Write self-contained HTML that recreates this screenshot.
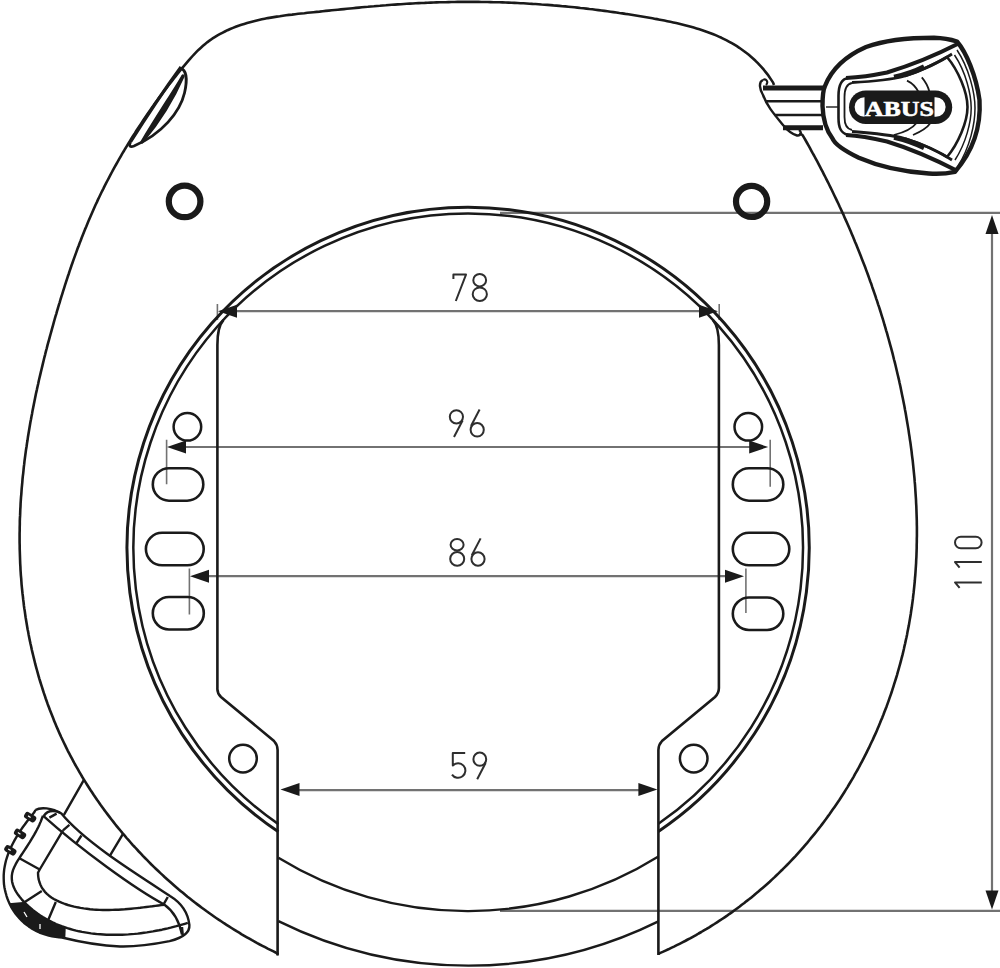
<!DOCTYPE html><html><head><meta charset="utf-8"><style>html,body{margin:0;padding:0;background:#fff;width:1000px;height:968px;overflow:hidden}svg{display:block}</style></head><body><svg width="1000" height="968" viewBox="0 0 1000 968"><g stroke="#727272" stroke-width="2.2" fill="none">
<path d="M230,311.2 H705"/>
<path d="M180,447 H756"/>
<path d="M200,576.2 H733"/>
<path d="M292,790.2 H646"/>
<path d="M500,212.8 H1000"/>
<path d="M500,910.8 H1000"/>
<path d="M992,228 V896"/>
</g>
<g stroke="#727272" stroke-width="1.6" fill="none">
<path d="M217.4,304 V320 M719.2,304 V320"/>
<path d="M166.6,439.7 V484.3 M770.2,439.7 V486.8"/>
<path d="M189.4,568.6 V614.5 M745.9,568.6 V613"/>
</g>
<path d="M774.0,85.0 L773.1,82.6 L771.3,79.9 L769.5,77.2 L767.7,74.6 L765.7,72.1 L763.8,69.7 L761.8,67.3 L759.7,65.1 L757.6,62.9 L755.5,60.8 L753.3,58.7 L751.0,56.7 L748.8,54.8 L746.5,53.0 L744.1,51.2 L741.7,49.5 L739.3,47.8 L736.9,46.2 L734.4,44.7 L731.8,43.2 L729.3,41.8 L726.7,40.4 L724.1,39.1 L721.5,37.8 L718.8,36.6 L716.1,35.4 L713.4,34.3 L710.6,33.2 L707.9,32.2 L705.1,31.2 L702.3,30.2 L699.4,29.3 L696.6,28.4 L693.7,27.6 L690.9,26.8 L688.0,26.0 L685.0,25.2 L682.1,24.5 L679.2,23.8 L676.2,23.1 L673.3,22.4 L670.3,21.8 L667.3,21.2 L664.4,20.6 L661.4,20.0 L658.4,19.4 L655.4,18.9 L652.4,18.3 L649.4,17.8 L646.4,17.3 L643.4,16.8 L640.4,16.3 L637.4,15.8 L634.4,15.3 L631.4,14.8 L628.4,14.3 L625.4,13.9 L622.4,13.4 L619.4,13.0 L616.4,12.5 L613.4,12.1 L610.4,11.7 L607.4,11.3 L604.4,10.9 L601.4,10.5 L598.4,10.1 L595.4,9.7 L592.4,9.3 L589.4,9.0 L586.4,8.6 L583.4,8.3 L580.4,8.0 L577.4,7.6 L574.4,7.3 L571.4,7.0 L568.4,6.7 L565.4,6.4 L562.4,6.2 L559.4,5.9 L556.4,5.6 L553.4,5.4 L550.5,5.1 L547.5,4.9 L544.5,4.7 L541.5,4.5 L538.5,4.2 L535.5,4.0 L532.5,3.9 L529.5,3.7 L526.5,3.5 L523.5,3.3 L520.5,3.2 L517.5,3.0 L514.5,2.9 L511.5,2.8 L508.5,2.6 L505.5,2.5 L502.5,2.4 L499.5,2.3 L496.5,2.2 L493.5,2.2 L490.5,2.1 L487.5,2.0 L484.5,2.0 L481.5,2.0 L478.5,1.9 L475.5,1.9 L472.5,1.9 L469.5,1.9 L466.5,1.9 L463.5,1.9 L460.5,1.9 L457.6,1.9 L454.6,2.0 L451.6,2.0 L448.6,2.1 L445.6,2.2 L442.6,2.2 L439.6,2.3 L436.6,2.4 L433.6,2.5 L430.7,2.6 L427.7,2.7 L424.7,2.9 L421.7,3.0 L418.7,3.1 L415.7,3.3 L412.7,3.5 L409.8,3.6 L406.8,3.8 L403.8,4.0 L400.8,4.2 L397.8,4.4 L394.8,4.6 L391.9,4.8 L388.9,5.0 L385.9,5.3 L382.9,5.5 L379.9,5.8 L376.9,6.0 L373.9,6.3 L370.9,6.5 L367.9,6.8 L364.9,7.0 L361.9,7.3 L358.9,7.6 L355.9,7.9 L352.9,8.2 L349.9,8.5 L346.9,8.8 L343.9,9.1 L340.9,9.4 L337.8,9.7 L334.8,10.0 L331.8,10.3 L328.8,10.6 L325.7,10.9 L322.7,11.2 L319.6,11.6 L316.6,11.9 L313.5,12.2 L310.5,12.5 L307.4,12.8 L304.4,13.2 L301.3,13.5 L298.2,13.8 L295.1,14.2 L292.1,14.6 L289.0,14.9 L286.0,15.3 L282.9,15.7 L279.8,16.2 L276.8,16.6 L273.8,17.1 L270.8,17.6 L267.7,18.1 L264.7,18.7 L261.8,19.3 L258.8,20.0 L255.8,20.7 L252.9,21.4 L250.0,22.2 L247.1,23.0 L244.2,23.9 L241.4,24.8 L238.5,25.7 L235.7,26.8 L233.0,27.9 L230.2,29.0 L227.5,30.2 L224.9,31.5 L222.3,32.8 L219.7,34.2 L217.1,35.6 L214.7,37.1 L212.2,38.7 L209.8,40.4 L207.5,42.1 L205.2,43.9 L203.0,45.8 L200.9,47.7 L198.7,49.7 L196.7,51.7 L194.6,53.8 L192.6,56.0 L190.7,58.1 L188.7,60.3 L186.8,62.6 L184.9,64.8 L183.0,67.1 L181.1,69.4 L179.2,71.7 L177.4,74.0 L175.5,76.4 L173.6,78.7 L171.8,81.1 L169.9,83.5 L168.1,85.8 L166.3,88.2 L164.4,90.6 L162.6,93.1 L160.8,95.5 L159.0,97.9 L157.2,100.4 L155.4,102.8 L153.7,105.3 L151.9,107.8 L150.2,110.3 L148.4,112.8 L146.7,115.3 L145.0,117.8 L143.3,120.3 L141.6,122.9 L139.9,125.4 L138.2,128.0 L136.5,130.5 L134.9,133.1 L133.2,135.7 L131.6,138.3 L130.0,140.9 L128.4,143.5 L126.8,146.1 L125.2,148.7 L123.7,151.3 L122.1,153.9 L120.6,156.6 L119.1,159.2 L117.6,161.9 L116.1,164.5 L114.6,167.2 L113.1,169.8 L111.7,172.5 L110.3,175.2 L108.9,177.8 L107.5,180.5 L106.1,183.2 L104.7,185.9 L103.4,188.6 L102.0,191.3 L100.7,194.0 L99.4,196.7 L98.1,199.4 L96.9,202.1 L95.6,204.8 L94.4,207.5 L93.2,210.3 L92.0,213.0 L90.8,215.7 L89.6,218.5 L88.4,221.2 L87.3,223.9 L86.2,226.7 L85.0,229.4 L83.9,232.2 L82.8,234.9 L81.7,237.7 L80.7,240.5 L79.6,243.2 L78.6,246.0 L77.5,248.8 L76.5,251.6 L75.5,254.4 L74.5,257.1 L73.5,259.9 L72.5,262.7 L71.5,265.5 L70.6,268.3 L69.6,271.1 L68.7,274.0 L67.7,276.8 L66.8,279.6 L65.9,282.4 L65.0,285.2 L64.1,288.1 L63.2,290.9 L62.3,293.8 L61.4,296.6 L60.5,299.5 L59.7,302.3 L58.8,305.2 L58.0,308.0 L57.1,310.9 L56.3,313.8 L55.4,316.6 L54.6,319.5 L53.8,322.4 L53.0,325.3 L52.2,328.2 L51.4,331.1 L50.6,334.0 L49.8,336.9 L49.0,339.8 L48.2,342.7 L47.4,345.6 L46.7,348.5 L45.9,351.4 L45.2,354.3 L44.4,357.3 L43.7,360.2 L43.0,363.1 L42.3,366.1 L41.6,369.0 L40.9,371.9 L40.2,374.9 L39.5,377.8 L38.8,380.8 L38.2,383.7 L37.5,386.7 L36.9,389.6 L36.2,392.6 L35.6,395.6 L35.0,398.5 L34.4,401.5 L33.8,404.5 L33.2,407.4 L32.6,410.4 L32.1,413.4 L31.5,416.4 L31.0,419.3 L30.4,422.3 L29.9,425.3 L29.4,428.3 L28.9,431.3 L28.4,434.3 L27.9,437.3 L27.5,440.3 L27.0,443.3 L26.6,446.2 L26.1,449.2 L25.7,452.2 L25.3,455.2 L24.9,458.2 L24.5,461.2 L24.2,464.2 L23.8,467.2 L23.5,470.3 L23.2,473.3 L22.8,476.3 L22.5,479.3 L22.3,482.3 L22.0,485.3 L21.7,488.3 L21.5,491.3 L21.3,494.3 L21.0,497.3 L20.8,500.3 L20.6,503.4 L20.5,506.4 L20.3,509.4 L20.2,512.4 L20.1,515.4 L19.9,518.4 L19.8,521.4 L19.8,524.4 L19.7,527.5 L19.7,530.5 L19.6,533.5 L19.6,536.5 L19.6,539.5 L19.6,542.5 L19.7,545.5 L19.7,548.5 L19.8,551.5 L19.9,554.5 L20.0,557.6 L20.1,560.6 L20.2,563.6 L20.4,566.6 L20.5,569.6 L20.7,572.6 L20.9,575.6 L21.2,578.6 L21.4,581.6 L21.6,584.6 L21.9,587.6 L22.2,590.5 L22.5,593.5 L22.9,596.5 L23.2,599.5 L23.6,602.5 L23.9,605.5 L24.3,608.4 L24.8,611.4 L25.2,614.4 L25.6,617.3 L26.1,620.3 L26.6,623.2 L27.1,626.2 L27.6,629.2 L28.2,632.1 L28.7,635.0 L29.3,638.0 L29.9,640.9 L30.5,643.8 L31.2,646.8 L31.8,649.7 L32.5,652.6 L33.2,655.5 L33.9,658.4 L34.6,661.3 L35.3,664.2 L36.1,667.1 L36.9,670.0 L37.7,672.9 L38.5,675.8 L39.3,678.6 L40.2,681.5 L41.1,684.3 L42.0,687.2 L42.9,690.0 L43.8,692.9 L44.8,695.7 L45.7,698.5 L46.7,701.3 L47.7,704.2 L48.8,707.0 L49.8,709.8 L50.9,712.5 L52.0,715.3 L53.1,718.1 L54.2,720.9 L55.3,723.6 L56.5,726.4 L57.7,729.1 L58.9,731.9 L60.1,734.6 L61.3,737.3 L62.6,740.0 L63.9,742.7 L65.2,745.4 L66.5,748.1 L67.8,750.8 L69.2,753.4 L70.6,756.1 L72.0,758.7 L73.4,761.4 L74.8,764.0 L76.3,766.6 L77.8,769.2 L79.3,771.8 L80.8,774.4 L82.3,777.0 L83.9,779.6 L85.5,782.1 L87.1,784.7 L88.7,787.2 L90.3,789.8 L92.0,792.3 L93.6,794.8 L95.3,797.3 L97.0,799.8 L98.8,802.2 L100.5,804.7 L102.3,807.2 L104.0,809.6 L105.8,812.0 L107.6,814.4 L109.5,816.9 L111.3,819.2 L113.2,821.6 L115.0,824.0 L116.9,826.4 L118.8,828.7 L120.8,831.0 L122.7,833.4 L124.7,835.7 L126.6,838.0 L128.6,840.2 L130.6,842.5 L132.6,844.8 L134.7,847.0 L136.7,849.2 L138.8,851.5 L140.9,853.7 L142.9,855.9 L145.0,858.0 L147.2,860.2 L149.3,862.3 L151.4,864.5 L153.6,866.6 L155.8,868.7 L158.0,870.8 L160.2,872.9 L162.4,874.9 L164.6,877.0 L166.8,879.0 L169.1,881.0 L171.4,883.0 L173.6,885.0 L175.9,887.0 L178.2,889.0 L180.5,890.9 L182.9,892.8 L185.2,894.8 L187.5,896.7 L189.9,898.5 L192.3,900.4 L194.6,902.3 L197.0,904.1 L199.4,905.9 L201.8,907.7 L204.3,909.5 L206.7,911.3 L209.1,913.0 L211.6,914.8 L214.0,916.5 L216.5,918.2 L219.0,919.9 L221.5,921.5 L224.0,923.2 L226.5,924.8 L229.0,926.4 L231.5,928.0 L234.1,929.6 L236.6,931.2 L239.2,932.7 L241.7,934.3 L244.3,935.8 L246.9,937.3 L249.4,938.7 L252.0,940.2 L254.6,941.6 L257.2,943.1 L259.8,944.5 L262.4,945.8 L265.1,947.2 L267.7,948.6 L270.3,949.9 L273.0,951.2 L275.6,952.5 L278.4,954.4" fill="none" stroke="#1a1a1a" stroke-width="2.6" stroke-linejoin="round"/>
<path d="M799.6,133.0 L802.7,135.3 L804.2,137.9 L805.7,140.5 L807.1,143.0 L808.6,145.6 L810.0,148.2 L811.4,150.8 L812.8,153.4 L814.3,156.0 L815.7,158.6 L817.1,161.2 L818.5,163.8 L819.8,166.4 L821.2,169.1 L822.6,171.7 L823.9,174.3 L825.3,177.0 L826.6,179.6 L828.0,182.3 L829.3,185.0 L830.6,187.6 L831.9,190.3 L833.2,193.0 L834.5,195.7 L835.8,198.4 L837.1,201.1 L838.4,203.8 L839.6,206.5 L840.9,209.2 L842.1,211.9 L843.4,214.6 L844.6,217.4 L845.8,220.1 L847.0,222.8 L848.2,225.6 L849.4,228.3 L850.6,231.1 L851.8,233.9 L852.9,236.6 L854.1,239.4 L855.2,242.2 L856.4,244.9 L857.5,247.7 L858.6,250.5 L859.7,253.3 L860.8,256.1 L861.9,258.9 L863.0,261.7 L864.1,264.5 L865.2,267.3 L866.2,270.1 L867.3,273.0 L868.3,275.8 L869.3,278.6 L870.3,281.5 L871.4,284.3 L872.3,287.2 L873.3,290.0 L874.3,292.9 L875.3,295.7 L876.2,298.6 L877.2,301.4 L878.1,304.3 L879.1,307.2 L880.0,310.0 L880.9,312.9 L881.8,315.8 L882.7,318.7 L883.6,321.6 L884.4,324.5 L885.3,327.4 L886.1,330.3 L887.0,333.2 L887.8,336.1 L888.6,339.0 L889.4,341.9 L890.2,344.8 L891.0,347.7 L891.8,350.7 L892.6,353.6 L893.3,356.5 L894.0,359.5 L894.8,362.4 L895.5,365.3 L896.2,368.3 L896.9,371.2 L897.6,374.2 L898.3,377.1 L899.0,380.1 L899.6,383.0 L900.3,386.0 L900.9,388.9 L901.5,391.9 L902.1,394.9 L902.7,397.8 L903.3,400.8 L903.9,403.8 L904.5,406.7 L905.0,409.7 L905.6,412.7 L906.1,415.7 L906.6,418.7 L907.1,421.7 L907.6,424.6 L908.1,427.6 L908.6,430.6 L909.0,433.6 L909.5,436.6 L909.9,439.6 L910.4,442.6 L910.8,445.6 L911.2,448.6 L911.6,451.6 L911.9,454.6 L912.3,457.6 L912.7,460.6 L913.0,463.6 L913.3,466.7 L913.6,469.7 L913.9,472.7 L914.2,475.7 L914.5,478.7 L914.7,481.7 L915.0,484.7 L915.2,487.7 L915.4,490.8 L915.6,493.8 L915.8,496.8 L916.0,499.8 L916.1,502.8 L916.3,505.8 L916.4,508.8 L916.5,511.9 L916.6,514.9 L916.7,517.9 L916.8,520.9 L916.8,523.9 L916.9,526.9 L916.9,529.9 L916.9,533.0 L916.9,536.0 L916.8,539.0 L916.8,542.0 L916.7,545.0 L916.7,548.0 L916.6,551.0 L916.5,554.0 L916.4,557.0 L916.2,560.0 L916.1,563.0 L915.9,566.0 L915.7,569.0 L915.5,572.0 L915.3,575.0 L915.0,578.0 L914.8,581.0 L914.5,584.0 L914.2,587.0 L913.9,589.9 L913.6,592.9 L913.2,595.9 L912.9,598.9 L912.5,601.9 L912.1,604.8 L911.7,607.8 L911.2,610.8 L910.8,613.7 L910.3,616.7 L909.8,619.6 L909.3,622.6 L908.8,625.6 L908.2,628.5 L907.6,631.4 L907.1,634.4 L906.5,637.3 L905.8,640.3 L905.2,643.2 L904.5,646.1 L903.9,649.0 L903.2,652.0 L902.5,654.9 L901.7,657.8 L901.0,660.7 L900.2,663.6 L899.4,666.5 L898.6,669.4 L897.8,672.2 L897.0,675.1 L896.1,678.0 L895.2,680.9 L894.3,683.7 L893.4,686.6 L892.5,689.4 L891.6,692.3 L890.6,695.1 L889.6,697.9 L888.6,700.8 L887.6,703.6 L886.6,706.4 L885.5,709.2 L884.4,712.0 L883.4,714.8 L882.3,717.6 L881.1,720.3 L880.0,723.1 L878.8,725.9 L877.7,728.6 L876.5,731.4 L875.3,734.1 L874.0,736.9 L872.8,739.6 L871.5,742.3 L870.2,745.0 L869.0,747.7 L867.6,750.4 L866.3,753.1 L865.0,755.7 L863.6,758.4 L862.2,761.1 L860.8,763.7 L859.4,766.3 L858.0,769.0 L856.5,771.6 L855.0,774.2 L853.6,776.8 L852.1,779.4 L850.5,782.0 L849.0,784.5 L847.5,787.1 L845.9,789.6 L844.3,792.2 L842.7,794.7 L841.1,797.2 L839.5,799.7 L837.8,802.2 L836.1,804.7 L834.4,807.2 L832.7,809.6 L831.0,812.1 L829.3,814.5 L827.5,816.9 L825.8,819.3 L824.0,821.7 L822.2,824.1 L820.4,826.5 L818.5,828.9 L816.7,831.2 L814.8,833.6 L812.9,835.9 L811.0,838.2 L809.1,840.5 L807.2,842.8 L805.2,845.1 L803.3,847.3 L801.3,849.6 L799.3,851.8 L797.3,854.1 L795.3,856.3 L793.2,858.5 L791.2,860.6 L789.1,862.8 L787.0,865.0 L784.9,867.1 L782.8,869.2 L780.6,871.3 L778.5,873.4 L776.3,875.5 L774.1,877.6 L771.9,879.6 L769.7,881.7 L767.5,883.7 L765.2,885.7 L762.9,887.7 L760.7,889.6 L758.4,891.6 L756.0,893.5 L753.7,895.5 L751.4,897.4 L749.0,899.3 L746.6,901.1 L744.3,903.0 L741.8,904.8 L739.4,906.7 L737.0,908.5 L734.5,910.3 L732.1,912.1 L729.6,913.8 L727.1,915.6 L724.6,917.3 L722.1,919.0 L719.5,920.7 L717.0,922.3 L714.4,924.0 L711.8,925.6 L709.2,927.3 L706.6,928.9 L703.9,930.4 L701.3,932.0 L698.6,933.5 L696.0,935.1 L693.3,936.6 L690.6,938.1 L687.8,939.5 L685.1,941.0 L682.4,942.4 L679.6,943.8 L676.8,945.2 L674.0,946.6 L671.2,947.9 L668.4,949.3 L665.5,950.6 L662.7,951.9 L659.8,953.1 L658.4,954.0" fill="none" stroke="#1a1a1a" stroke-width="2.6" stroke-linejoin="round"/>
<circle cx="184.6" cy="201.4" r="15.8" fill="none" stroke="#1a1a1a" stroke-width="6.2"/>
<circle cx="751.6" cy="201.4" r="15.6" fill="none" stroke="#1a1a1a" stroke-width="6.2"/>
<path d="M278.4,831.8 A341.1,341.1 0 1 1 658.4,831.4" fill="none" stroke="#1a1a1a" stroke-width="3.0"/>
<path d="M278.4,824.1 A334.8,334.8 0 1 1 658.4,823.8" fill="none" stroke="#1a1a1a" stroke-width="2.5"/>
<path d="M223.4,320 Q217.4,326.5 217.4,345 L217.4,688 Q217,693 221,697 L274,741 Q277.6,745 277.6,750 L277.6,955.5" fill="none" stroke="#1a1a1a" stroke-width="2.6"/>
<path d="M712.9,320 Q718.9,326.8 718.9,345 L718.9,688 Q718.9,693 715,697 L662,741 Q658.4,745 658.4,750 L658.4,955" fill="none" stroke="#1a1a1a" stroke-width="2.6"/>
<path d="M278.4,857.7 A361.3,361.3 0 0 0 658.4,856.5" fill="none" stroke="#1a1a1a" stroke-width="2.4"/>
<path d="M278.4,921.1 A428.7,428.7 0 0 0 658.4,921.4" fill="none" stroke="#1a1a1a" stroke-width="2.4"/>
<circle cx="187.4" cy="426.8" r="13.8" fill="none" stroke="#1a1a1a" stroke-width="2.5"/>
<circle cx="748.3" cy="426.8" r="13.8" fill="none" stroke="#1a1a1a" stroke-width="2.5"/>
<circle cx="243.0" cy="758.6" r="13.8" fill="none" stroke="#1a1a1a" stroke-width="2.5"/>
<circle cx="693.7" cy="758.6" r="13.8" fill="none" stroke="#1a1a1a" stroke-width="2.5"/>
<rect x="152.8" y="468.2" width="50.5" height="32.5" rx="16.2" fill="none" stroke="#1a1a1a" stroke-width="2.6"/>
<rect x="145.9" y="532.8" width="57.8" height="32.5" rx="16.2" fill="none" stroke="#1a1a1a" stroke-width="2.6"/>
<rect x="152.8" y="597.0" width="51.0" height="32.5" rx="16.2" fill="none" stroke="#1a1a1a" stroke-width="2.6"/>
<rect x="732.8" y="468.2" width="50.5" height="32.5" rx="16.2" fill="none" stroke="#1a1a1a" stroke-width="2.6"/>
<rect x="732.8" y="532.8" width="56.5" height="32.5" rx="16.2" fill="none" stroke="#1a1a1a" stroke-width="2.6"/>
<rect x="732.8" y="597.5" width="50.5" height="32.5" rx="16.2" fill="none" stroke="#1a1a1a" stroke-width="2.6"/>
<path d="M218.0,311.2 L237.0,304.7 L237.0,317.7 Z" fill="#1a1a1a"/>
<path d="M718.0,311.2 L699.0,317.7 L699.0,304.7 Z" fill="#1a1a1a"/>
<path d="M167.0,447.0 L186.0,440.5 L186.0,453.5 Z" fill="#1a1a1a"/>
<path d="M768.2,447.0 L749.2,453.5 L749.2,440.5 Z" fill="#1a1a1a"/>
<path d="M190.0,576.2 L209.0,569.7 L209.0,582.7 Z" fill="#1a1a1a"/>
<path d="M744.0,576.2 L725.0,582.7 L725.0,569.7 Z" fill="#1a1a1a"/>
<path d="M280.5,789.5 L299.5,783.0 L299.5,796.0 Z" fill="#1a1a1a"/>
<path d="M657.4,789.5 L638.4,796.0 L638.4,783.0 Z" fill="#1a1a1a"/>
<path d="M992.0,215.0 L998.5,234.0 L985.5,234.0 Z" fill="#1a1a1a"/>
<path d="M992.0,909.4 L985.5,890.4 L998.5,890.4 Z" fill="#1a1a1a"/>
<g fill="none" stroke="#2e2e2e" stroke-width="2" stroke-linecap="butt" stroke-linejoin="round">
<path d="M453.4,279 V274.6 H466 L455.8,301"/>
<ellipse cx="479.7" cy="280.2" rx="6.4" ry="6.2"/>
<ellipse cx="479.8" cy="294.2" rx="7.1" ry="6.8"/>
<ellipse cx="456.4" cy="416.8" rx="6.6" ry="6.6"/>
<path d="M462.6,420.5 L454,437"/>
<ellipse cx="477.2" cy="429.8" rx="6.6" ry="6.8"/>
<path d="M471,426 L479.6,409.5"/>
<ellipse cx="457.1" cy="544.7" rx="6.5" ry="5.7"/>
<ellipse cx="457.2" cy="558.9" rx="7.0" ry="6.9"/>
<ellipse cx="478" cy="559" rx="6.6" ry="6.8"/>
<path d="M471.8,555.2 L480.6,538.4"/>
<path d="M465.2,753 H452.8 V765.5 A7.3,7.3 0 1 1 452,774.6"/>
<ellipse cx="479.8" cy="759.2" rx="6.4" ry="6.6"/>
<path d="M485.6,763 L477.2,779.2"/>
<rect x="955" y="536.7" width="26.6" height="11.6" rx="5.8"/>
<path d="M981.8,562.1 H955 L959.6,567.6"/>
<path d="M981.8,582.4 H955 L959.6,587.9"/>
</g>
<path d="M180.5,68 C186.5,70 187.5,80 184.5,93 C180,112 162,134 134,146 C130,147.5 128.5,146 130.5,142" fill="none" stroke="#1a1a1a" stroke-width="2.8"/>
<path d="M181,67 C170,82 148,114 130.5,142" fill="none" stroke="#1a1a1a" stroke-width="3.2"/>
<path d="M183,76 C175,90 160,112 142,142 C152,130 170,106 183,76 Z" fill="#1a1a1a" stroke="#1a1a1a" stroke-width="3.4" stroke-linejoin="round"/>
<g fill="none" stroke="#1a1a1a" stroke-linejoin="round">
<path d="M763,80 C758,82 760,90 763,95 C767,106 774,114 783,125 C787,130 792,134 797,135.5 C801,136 802,132 799,130" stroke-width="2.4"/>
<path d="M763,80 C766,78 769,82 766,85" stroke-width="2"/>
<path d="M763,88 H823" stroke-width="5"/>
<path d="M765.5,101.3 H823" stroke-width="2.6"/>
<path d="M774.5,115 H823" stroke-width="2.6"/>
<path d="M783,127.7 H823" stroke-width="5"/>
</g>
<path d="M825,86 C832,68 848,55 866,47 C885,40 910,37.7 934,37.7 C945,38 951,39.5 957,41.5 C966,52 976,75 979.5,100 C981,125 974,150 955,171.8 C945,174 935,174 928.8,173.5 C905,172 880,167 858.8,157.8 C845,151 835,145 832.5,138.5 C826,130 823,120 822.5,106 C822.5,95 823,90 825,86 Z" fill="#fff" stroke="#1a1a1a" stroke-width="4.4" stroke-linejoin="round"/>
<path d="M905,76 C926,69 940,61 947,57 C958,70 967.5,92 967.5,107 C967.5,122 958,144 947,157 C940,153 926,145 905,138.5" fill="none" stroke="#1a1a1a" stroke-width="2.6" stroke-linejoin="round"/>
<path d="M954.5,55 C966,72 971.2,95 971.2,108 C971.2,122 966,143 955,160" fill="none" stroke="#1a1a1a" stroke-width="1.5"/>
<path d="M957,50 C969,68 975,93 975,108 C975,124 970,147 958,166" fill="none" stroke="#1a1a1a" stroke-width="1.5"/>
<path d="M848,78 C841,79 838.5,86 838.5,96 L838.5,118 C838.5,128 841,133 848,135" fill="none" stroke="#1a1a1a" stroke-width="2.6"/>
<path d="M852,83 C846.5,84 844.5,89 844.5,97 L844.5,117 C844.5,124 846.5,129 852,130" fill="none" stroke="#1a1a1a" stroke-width="1.8"/>
<path d="M957.5,44 C940,53 915,64 887,72.5 C870,76 856,77.5 846,78" fill="none" stroke="#1a1a1a" stroke-width="4.2"/>
<path d="M952,54 C940,62 926,69 905,76 C890,80 872,81.5 852,82.5" fill="none" stroke="#1a1a1a" stroke-width="2.8"/>
<path d="M894,77 C905,74.5 915,71 924,66.5" fill="none" stroke="#1a1a1a" stroke-width="4.4"/>
<path d="M957.5,171 C940,162 915,150 887,141.5 C870,137.5 856,135.5 846,135" fill="none" stroke="#1a1a1a" stroke-width="4.2"/>
<path d="M952,160 C940,152 926,145 905,138.5 C890,134.5 872,133 852,131.5" fill="none" stroke="#1a1a1a" stroke-width="2.8"/>
<path d="M894,137.5 C905,140 915,143.5 924,148" fill="none" stroke="#1a1a1a" stroke-width="4.4"/>
<path d="M826,107 H838" stroke="#1a1a1a" stroke-width="1.4"/>
<path d="M907,80.6 C912,83 916,87 918.5,92" fill="none" stroke="#1a1a1a" stroke-width="1.8"/>
<path d="M921.8,77.3 C925,81 928,86 929.5,92" fill="none" stroke="#1a1a1a" stroke-width="1.8"/>
<path d="M893.8,135 C902,133 912,129 916.5,123" fill="none" stroke="#1a1a1a" stroke-width="1.8"/>
<path d="M913,135 C920,132 927,128 930.5,123" fill="none" stroke="#1a1a1a" stroke-width="1.8"/>
<rect x="849" y="90.4" width="103.2" height="33.6" rx="16.8" fill="#1a1a1a"/>
<rect x="854.6" y="97.2" width="91" height="19.6" rx="9.8" fill="#fff"/>
<rect x="864.5" y="96" width="70" height="22" fill="#1a1a1a"/>
<text x="899.3" y="116.2" text-anchor="middle" font-family="Liberation Serif, serif" font-weight="bold" font-size="22" fill="#fff" stroke="#fff" stroke-width="0.6" transform="rotate(0.01 899 107)" textLength="69" lengthAdjust="spacingAndGlyphs">ABUS</text>
<path d="M35.5,810 C40,807 52,807.5 61.4,813.6 C84,841 130,870 170,895.9 C180,902 188,912 189.4,925 C190,933 182,938 169.6,941.1 C150,945 132,946.8 120,946.5 C98,945.5 78,941.5 62,937.5 L62.0,937.5 L59.0,937.3 L55.5,936.9 L52.1,936.3 L48.8,935.6 L45.6,934.7 L42.5,933.6 L39.5,932.5 L36.6,931.1 L33.9,929.7 L31.2,928.1 L28.7,926.4 L26.2,924.6 L23.9,922.7 L21.7,920.6 L19.6,918.5 L17.7,916.3 L15.8,914.0 L14.1,911.6 L12.5,909.1 L11.0,906.6 L9.7,903.9 L8.5,901.3 L7.4,898.5 L6.5,895.8 L5.7,892.9 L5.0,890.1 L4.4,887.2 L4.0,884.3 L3.8,881.3 L3.7,878.3 L3.7,875.4 L3.9,872.4 L4.2,869.4 L4.7,866.4 L5.3,863.5 L6.0,860.5 L6.9,857.6 L7.9,854.6 L9.0,851.7 L10.3,848.9 L11.6,846.0 L13.0,843.2 L14.5,840.4 L16.1,837.6 L17.7,834.9 L19.4,832.2 L21.1,829.6 L22.9,827.0 L24.8,824.5 L26.6,822.0 L28.5,819.5 L30.4,817.2 L32.3,814.8 L34.1,812.6 L35.5,810.0" fill="none" stroke="#1a1a1a" stroke-width="2.4" stroke-linejoin="round"/>
<path d="M43,815.7 C80,849 135,889 164.5,904.7 C172,910 179,920 182,934.5" fill="none" stroke="#1a1a1a" stroke-width="2.4" stroke-linejoin="round"/>
<path d="M43.0,815.7 L41.8,818.7 L40.7,821.6 L39.5,824.4 L38.2,827.2 L36.9,829.8 L35.5,832.4 L34.1,834.9 L32.6,837.4 L31.1,839.9 L29.6,842.4 L28.0,844.9 L26.3,847.5 L24.6,850.1 L22.8,852.8 L21.0,855.5 L19.2,858.3 L17.4,861.2 L15.7,864.2 L14.2,867.2 L13.0,870.1 L12.2,873.1 L11.8,876.0 L11.8,878.9 L12.1,881.7 L12.8,884.4 L13.7,887.1 L15.0,889.8 L16.5,892.3 L18.1,894.8 L20.0,897.3 L21.9,899.6 L24.0,901.9 L26.2,904.1 L28.4,906.2 L30.7,908.2 L33.0,910.2 L35.4,912.0 L37.8,913.8 L40.3,915.5 L42.8,917.1 L45.4,918.6 L48.0,920.1 L50.7,921.4 L53.3,922.7 L56.1,924.0 L58.8,925.1 L61.6,926.2 L64.5,927.2 L67.3,928.2 L70.2,929.0 L73.1,929.8 L76.1,930.6 L79.0,931.3 L82.0,931.9 L85.0,932.4 L88.1,932.9 L91.1,933.4 L94.2,933.7 L97.3,934.1 L100.3,934.3 L103.4,934.5 L106.5,934.7 L109.7,934.8 L112.8,934.8 L115.9,934.8 L119.0,934.8 L122.1,934.7 L125.3,934.6 L128.4,934.4 L131.5,934.1 L134.6,933.9 L137.7,933.6 L140.8,933.2 L143.9,932.8 L146.9,932.4 L150.0,931.9 L153.0,931.4 L156.0,930.8 L159.0,930.3 L162.0,929.7 L164.9,929.0 L167.8,928.4 L170.7,927.7 L173.6,926.9 L176.4,926.2 L179.2,925.4 L182.0,924.6 L184.7,923.8 L187.8,922.9" fill="none" stroke="#1a1a1a" stroke-width="2.4" stroke-linejoin="round"/>
<path d="M63,830.4 L39.7,869.5 L39.7,869.5 L38.0,872.8 L38.2,876.1 L38.6,879.2 L39.4,882.0 L40.4,884.7 L41.7,887.3 L43.2,889.6 L44.9,891.8 L46.9,893.8 L49.0,895.7 L51.4,897.4 L53.8,899.0 L56.5,900.4 L59.2,901.7 L62.1,902.9 L65.0,904.0 L68.0,905.0 L71.1,905.8 L74.2,906.6 L77.4,907.3 L80.5,907.9 L83.7,908.4 L86.8,908.8 L90.0,909.2 L93.2,909.5 L96.3,909.7 L99.5,909.9 L102.7,910.0 L105.8,910.0 L109.0,910.0 L112.2,909.9 L115.3,909.8 L118.5,909.7 L121.6,909.5 L124.8,909.3 L127.9,909.0 L131.0,908.7 L134.1,908.4 L137.2,908.1 L140.2,907.8 L143.3,907.4 L146.3,907.0 L149.4,906.6 L152.4,906.3 L155.3,905.9 L158.3,905.5 L161.2,905.1 L164.5,904.7" fill="none" stroke="#1a1a1a" stroke-width="2.4" stroke-linejoin="round"/>
<path d="M84.2,779.3 L63.8,815.2 M122.7,834.3 L109.5,856.3 M19,858 L39.7,869.5 M24.8,902 L41.8,891 M48,920.5 L55.8,902 M81.5,835.5 L76.5,843 M167.8,897 L163.4,904.7 M49.4,817.6 L56.6,813.6 M182,927 L182.8,935.3" fill="none" stroke="#1a1a1a" stroke-width="2.4" stroke-linejoin="round"/>
<clipPath id="rimclip"><path d="M35.5,810.0 L34.2,812.6 L32.1,814.8 L30.2,817.1 L28.2,819.4 L26.3,821.8 L24.4,824.3 L22.6,826.9 L20.8,829.4 L19.1,832.1 L17.5,834.8 L15.9,837.5 L14.4,840.3 L13.0,843.1 L11.6,846.0 L10.4,848.9 L9.2,851.8 L8.1,854.7 L7.2,857.6 L6.3,860.6 L5.6,863.6 L5.0,866.5 L4.5,869.5 L4.1,872.5 L3.8,875.5 L3.7,878.4 L3.8,881.4 L4.0,884.3 L4.3,887.2 L4.8,890.1 L5.5,892.9 L6.2,895.7 L7.2,898.5 L8.3,901.2 L9.5,903.9 L10.9,906.5 L12.4,909.1 L14.0,911.5 L15.8,913.9 L17.6,916.2 L19.6,918.5 L21.8,920.6 L24.0,922.6 L26.4,924.6 L28.9,926.4 L31.4,928.1 L34.1,929.7 L36.9,931.1 L39.8,932.5 L42.8,933.6 L45.9,934.7 L49.0,935.6 L52.3,936.3 L55.6,936.9 L59.1,937.3 L62.0,937.5 L187.8,922.9 L184.7,923.8 L182.0,924.6 L179.2,925.4 L176.4,926.2 L173.5,926.9 L170.7,927.7 L167.8,928.4 L164.8,929.0 L161.9,929.7 L158.9,930.3 L155.9,930.9 L152.9,931.4 L149.9,931.9 L146.8,932.4 L143.8,932.8 L140.7,933.2 L137.6,933.6 L134.5,933.9 L131.4,934.1 L128.3,934.4 L125.2,934.6 L122.1,934.7 L119.0,934.8 L115.9,934.8 L112.8,934.8 L109.7,934.8 L106.5,934.7 L103.5,934.5 L100.4,934.3 L97.3,934.1 L94.2,933.7 L91.2,933.4 L88.1,932.9 L85.1,932.4 L82.1,931.9 L79.1,931.3 L76.2,930.6 L73.2,929.8 L70.3,929.0 L67.4,928.1 L64.6,927.2 L61.7,926.2 L58.9,925.1 L56.2,923.9 L53.5,922.7 L50.8,921.4 L48.1,920.0 L45.5,918.6 L42.9,917.1 L40.4,915.5 L37.9,913.8 L35.5,912.0 L33.1,910.1 L30.7,908.2 L28.4,906.2 L26.2,904.1 L24.0,901.9 L21.9,899.6 L19.9,897.3 L18.0,894.9 L16.4,892.4 L14.9,889.8 L13.6,887.1 L12.6,884.4 L11.9,881.7 L11.6,878.9 L11.6,876.0 L12.0,873.1 L12.8,870.2 L14.1,867.2 L15.6,864.2 L17.4,861.3 L19.4,858.3 L21.5,855.4 L23.7,852.5 L25.8,849.7 L27.7,847.0 L29.5,844.4 L31.0,841.9 L32.2,839.5 L32.9,837.3 L33.2,835.2 L33.2,833.3 L33.1,831.3 L33.3,829.1 L34.0,826.6 L35.7,823.6 L38.6,820.0 L43.0,815.7 Z"/></clipPath>
<g clip-path="url(#rimclip)"><path d="M0,904 L23,902 L66,922 L65,945 L0,945 Z" fill="#1a1a1a"/><path d="M24,912 L27,917 M40,924 L40,929" stroke="#fff" stroke-width="1.3"/></g>
<rect x="4.1" y="846.8" width="12.5" height="7" rx="2.8" transform="rotate(32 10.3 850.3)" fill="#1a1a1a"/>
<rect x="7.8" y="849.7" width="3" height="1.2" transform="rotate(32 10.3 850.3)" fill="#fff"/>
<rect x="13.8" y="830.4" width="12.5" height="7" rx="2.8" transform="rotate(32 20.0 833.9)" fill="#1a1a1a"/>
<rect x="17.5" y="833.3" width="3" height="1.2" transform="rotate(32 20.0 833.9)" fill="#fff"/>
<rect x="23.9" y="813.7" width="12.5" height="7" rx="2.8" transform="rotate(32 30.2 817.2)" fill="#1a1a1a"/>
<rect x="27.7" y="816.6" width="3" height="1.2" transform="rotate(32 30.2 817.2)" fill="#fff"/>
<path d="M43.8,816 C47,811 53,810 60,812.5 M63,830.4 L69.4,824.8" fill="none" stroke="#1a1a1a" stroke-width="2.4" stroke-linejoin="round"/></svg></body></html>
